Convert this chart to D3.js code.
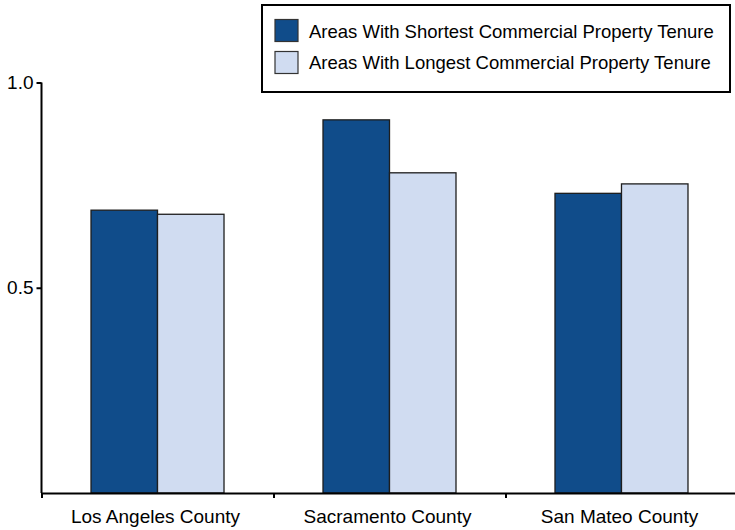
<!DOCTYPE html>
<html><head><meta charset="utf-8">
<script src="https://cdn.jsdelivr.net/npm/d3@7"></script>
<style>
html,body{margin:0;padding:0;background:#fff;}
svg{display:block;font-family:"Liberation Sans",Arial,Helvetica,sans-serif;}
</style></head>
<body>
<svg id="chart" width="735" height="530"></svg>
<script>
const categories = ["Los Angeles County", "Sacramento County", "San Mateo County"];
const seriesNames = ["Areas With Shortest Commercial Property Tenure", "Areas With Longest Commercial Property Tenure"];
const shortestValues = [0.689, 0.909, 0.730];
const longestValues = [0.679, 0.780, 0.753];
const yTickValues = [0.5, 1.0];
const colors = ["#104c8a", "#d0dcf1"];

const svg = d3.select("#chart");
const plotLeft = 41.5, plotRight = 737.5, plotBottom = 493, plotTop = 82.5;

const y = d3.scaleLinear().domain([0, 1]).range([plotBottom, plotTop]);
const x0 = d3.scaleBand().domain(categories).range([plotLeft, plotRight]).paddingInner(0.4267).paddingOuter(0.2134);
const x1 = d3.scaleBand().domain([0, 1]).range([0, x0.bandwidth()]);
const xEdges = d3.scaleLinear().domain([0, categories.length]).range([plotLeft, plotRight]);

const data = categories.map((c, i) => ({cat: c, vals: [shortestValues[i], longestValues[i]]}));

// bars
const g = svg.append("g");
data.forEach(d => {
  d.vals.forEach((v, j) => {
    g.append("rect")
      .attr("x", x0(d.cat) + x1(j))
      .attr("y", y(v))
      .attr("width", x1.bandwidth())
      .attr("height", y(0) - y(v))
      .attr("fill", colors[j])
      .attr("stroke", "#1e1e1e")
      .attr("stroke-width", 1.3);
  });
});

// y axis
const yAxis = svg.append("g")
  .attr("transform", `translate(${plotLeft},0)`)
  .call(d3.axisLeft(y).tickValues(yTickValues).tickFormat(d3.format(".1f")).tickSize(5).tickSizeOuter(0).tickPadding(3));
yAxis.select(".domain").attr("d", `M0,${y(1)}V${y(0)}`).attr("stroke", "#000").attr("stroke-width", 2);
yAxis.selectAll(".tick line").attr("stroke", "#000").attr("stroke-width", 2);
yAxis.selectAll(".tick text").attr("font-size", 19).attr("fill", "#000").attr("font-family", "Liberation Sans, Arial, sans-serif");

// x axis
const xAxis = svg.append("g")
  .attr("transform", `translate(0,${plotBottom})`)
  .call(d3.axisBottom(xEdges).tickValues(d3.range(categories.length + 1)).tickFormat("").tickSize(5).tickSizeOuter(0));
xAxis.select(".domain").attr("stroke", "#000").attr("stroke-width", 2);
xAxis.selectAll(".tick line").attr("stroke", "#000").attr("stroke-width", 2);

// category labels
svg.append("g").selectAll("text").data(categories).join("text")
  .attr("x", d => x0(d) + x0.bandwidth() / 2 - 2)
  .attr("y", 523)
  .attr("text-anchor", "middle")
  .attr("font-size", 19)
  .attr("fill", "#000")
  .text(d => d);

// legend
const lg = svg.append("g");
lg.append("rect").attr("x", 262).attr("y", 5).attr("width", 468).attr("height", 87)
  .attr("fill", "#fff").attr("stroke", "#000").attr("stroke-width", 2);
seriesNames.forEach((n, i) => {
  lg.append("rect").attr("x", 275).attr("y", 19.5 + i * 32).attr("width", 23).attr("height", 22)
    .attr("fill", colors[i]).attr("stroke", "#333").attr("stroke-width", 1.2);
  lg.append("text").attr("x", 309).attr("y", 37.5 + i * 31.5)
    .attr("font-size", 18.5).attr("fill", "#000").text(n);
});
</script>
</body></html>
